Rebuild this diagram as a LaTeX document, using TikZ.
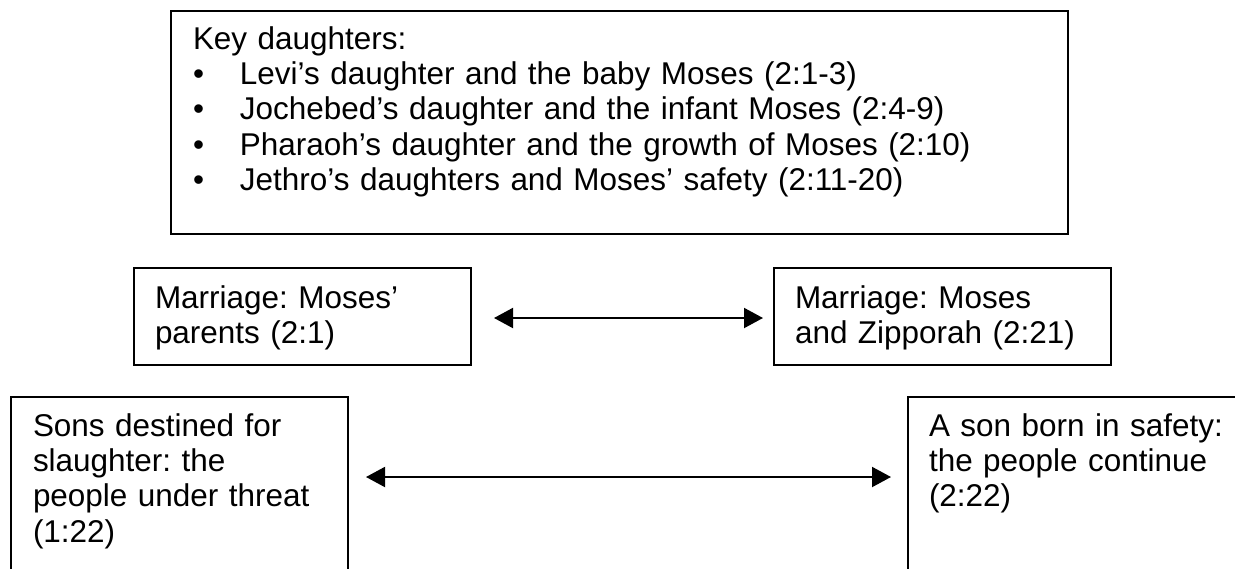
\documentclass[tikz,border=0pt]{standalone}
\usepackage{fontspec}
\setmainfont{Liberation Sans}
\usetikzlibrary{arrows.meta,calc}
\frenchspacing
\begin{document}
\begin{tikzpicture}[x=0.75pt,y=-0.75pt,
  box/.style={draw=black, line width=1.5pt, anchor=north west, inner ysep=0pt,
    align=left, font=\fontsize{23.6pt}{26.5pt}\selectfont},
  link/.style={line width=1.5pt,
    {Triangle[length=14.25pt,width=15pt]}-{Triangle[length=14.25pt,width=15pt]}}]
\useasboundingbox (0,0) rectangle (1235,568);
\clip (0,0) rectangle (1235,568);

\node[box, inner xsep=16.5pt, text width=639.75pt, text height=28.5pt, text depth=138.75pt]
  (top) at (170,10) {\mbox{Key daughters:}\\
  \mbox{\makebox[35.25pt][l]{•}Levi’s daughter and the baby Moses (2:1-3)}\\
  \mbox{\makebox[35.25pt][l]{•}Jochebed’s daughter and the infant Moses (2:4-9)}\\
  \mbox{\makebox[35.25pt][l]{•}Pharaoh’s daughter and the growth of Moses (2:10)}\\
  \mbox{\makebox[35.25pt][l]{•}Jethro’s daughters and Moses’ safety (2:11-20)}};

\node[box, inner xsep=15.75pt, text width=221.25pt, text height=30pt, text depth=42.75pt]
  (ml) at (133,267) {\mbox{Marriage: Moses’}\\\mbox{parents (2:1)}};
\node[box, inner xsep=15.75pt, text width=221.25pt, text height=30pt, text depth=42.75pt]
  (mr) at (773,267) {\mbox{Marriage: Moses}\\\mbox{and Zipporah (2:21)}};

\node[box, inner xsep=16.5pt, text width=219.75pt, text height=29.25pt, text depth=108.75pt]
  (sl) at (10,396) {\mbox{Sons destined for}\\\mbox{slaughter: the}\\\mbox{people under threat}\\\mbox{(1:22)}};
\node[box, inner xsep=15.75pt, text width=221.25pt, text height=29.25pt, text depth=108.75pt]
  (sr) at (907,396) {\mbox{A son born in safety:}\\\mbox{the people continue}\\\mbox{(2:22)}};

\draw[link] ($(ml.east)+(22,1.5)$) -- ($(mr.west)+(-10,1.5)$);
\draw[link] ($(sl.north east)+(17,81)$) -- ($(sr.north west)+(-16,81)$);
\end{tikzpicture}
\end{document}
